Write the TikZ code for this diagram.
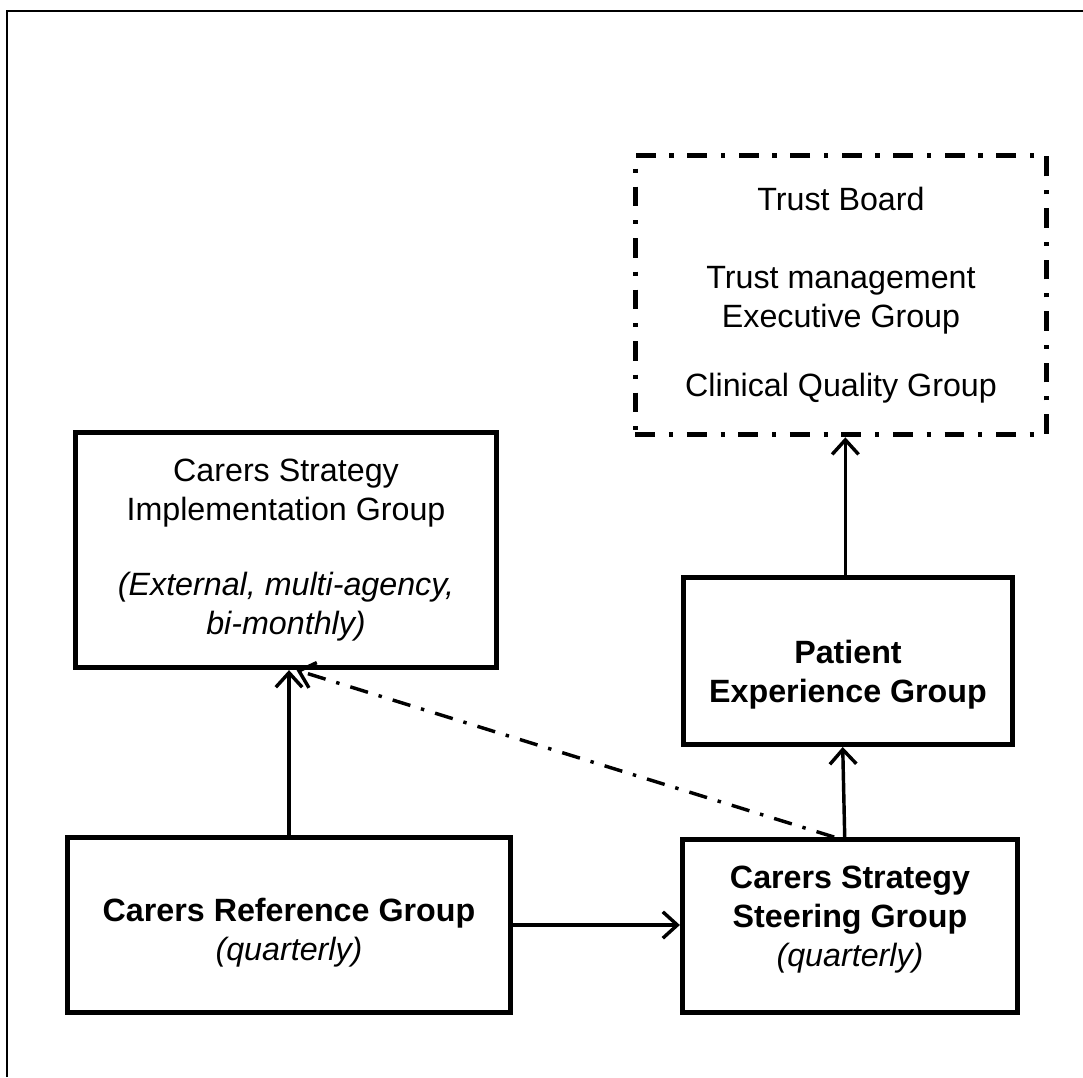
\documentclass[tikz,border=0pt]{standalone}
\usepackage{fontspec}
\setmainfont{Liberation Sans}
\usepackage{tikz}
\usetikzlibrary{calc,shapes,positioning}
\usetikzlibrary{arrows.meta}

% shift a block of centred lines up or down without changing its size
\newcommand{\movetext}[2]{\raisebox{#1}[\height][\depth]{\begin{tabular}{@{}c@{}}#2\end{tabular}}}

\begin{document}
\begin{tikzpicture}[x=0.0133cm, y=-0.0133cm]
      \tikzstyle{bnode} = [line width=1.9pt, draw, rectangle, align=center, inner sep=2pt, font=\fontsize{12.2}{14.8}\selectfont]
      \tikzstyle{dnode} = [bnode, dash pattern=on 7.5pt off 5.2pt on 1.6pt off 5.2pt]
      \tikzstyle{link} = [line width=1.3pt, -{Straight Barb[length=5.5pt,width=10pt]}]

      \useasboundingbox (0,0) rectangle (1083,1077);
      \draw[line width=0.8pt] (7,1077) -- (7,11) -- (1083,11);

      \node[dnode, minimum width=5.47cm, minimum height=3.72cm] (board) at (841,295)
        {Trust Board\\[14.8pt]Trust management\\Executive Group\\[11.3pt]Clinical Quality Group};
      \node[bnode, minimum width=5.61cm, minimum height=3.13cm] (impl) at (286,550)
        {Carers Strategy\\Implementation Group\\[13.6pt]\textit{(External, multi-agency,}\\\textit{bi-monthly)}};
      \node[bnode, minimum width=4.39cm, minimum height=2.22cm] (pexp) at (848,661)
        {\movetext{-5.5pt}{\textbf{Patient}\\\textbf{Experience Group}}};
      \node[bnode, minimum width=5.89cm, minimum height=2.33cm] (ref) at (289,925)
        {\movetext{-3pt}{\textbf{Carers Reference Group}\\\textit{(quarterly)}}};
      \node[bnode, minimum width=4.46cm, minimum height=2.30cm] (steer) at (850,926)
        {\movetext{2.5pt}{\textbf{Carers Strategy}\\\textbf{Steering Group}\\\textit{(quarterly)}}};

      % connections
      \draw[link] (ref.north) -- (ref.north |- impl.south);
      \draw[link] (ref.east) -- (ref.east -| steer.west);
      \draw[link] ([xshift=-2pt]steer.north) -- ([xshift=-2pt]pexp.south);
      \draw[link] ([xshift=-1pt]pexp.north) -- ([xshift=-1pt]pexp.north |- board.south);
      \draw[link, dash pattern=on 7pt off 4.3pt on 1.3pt off 4.2pt] ([xshift=-6pt]steer.north) -- ([xshift=4pt]impl.south);
\end{tikzpicture}
\end{document}
